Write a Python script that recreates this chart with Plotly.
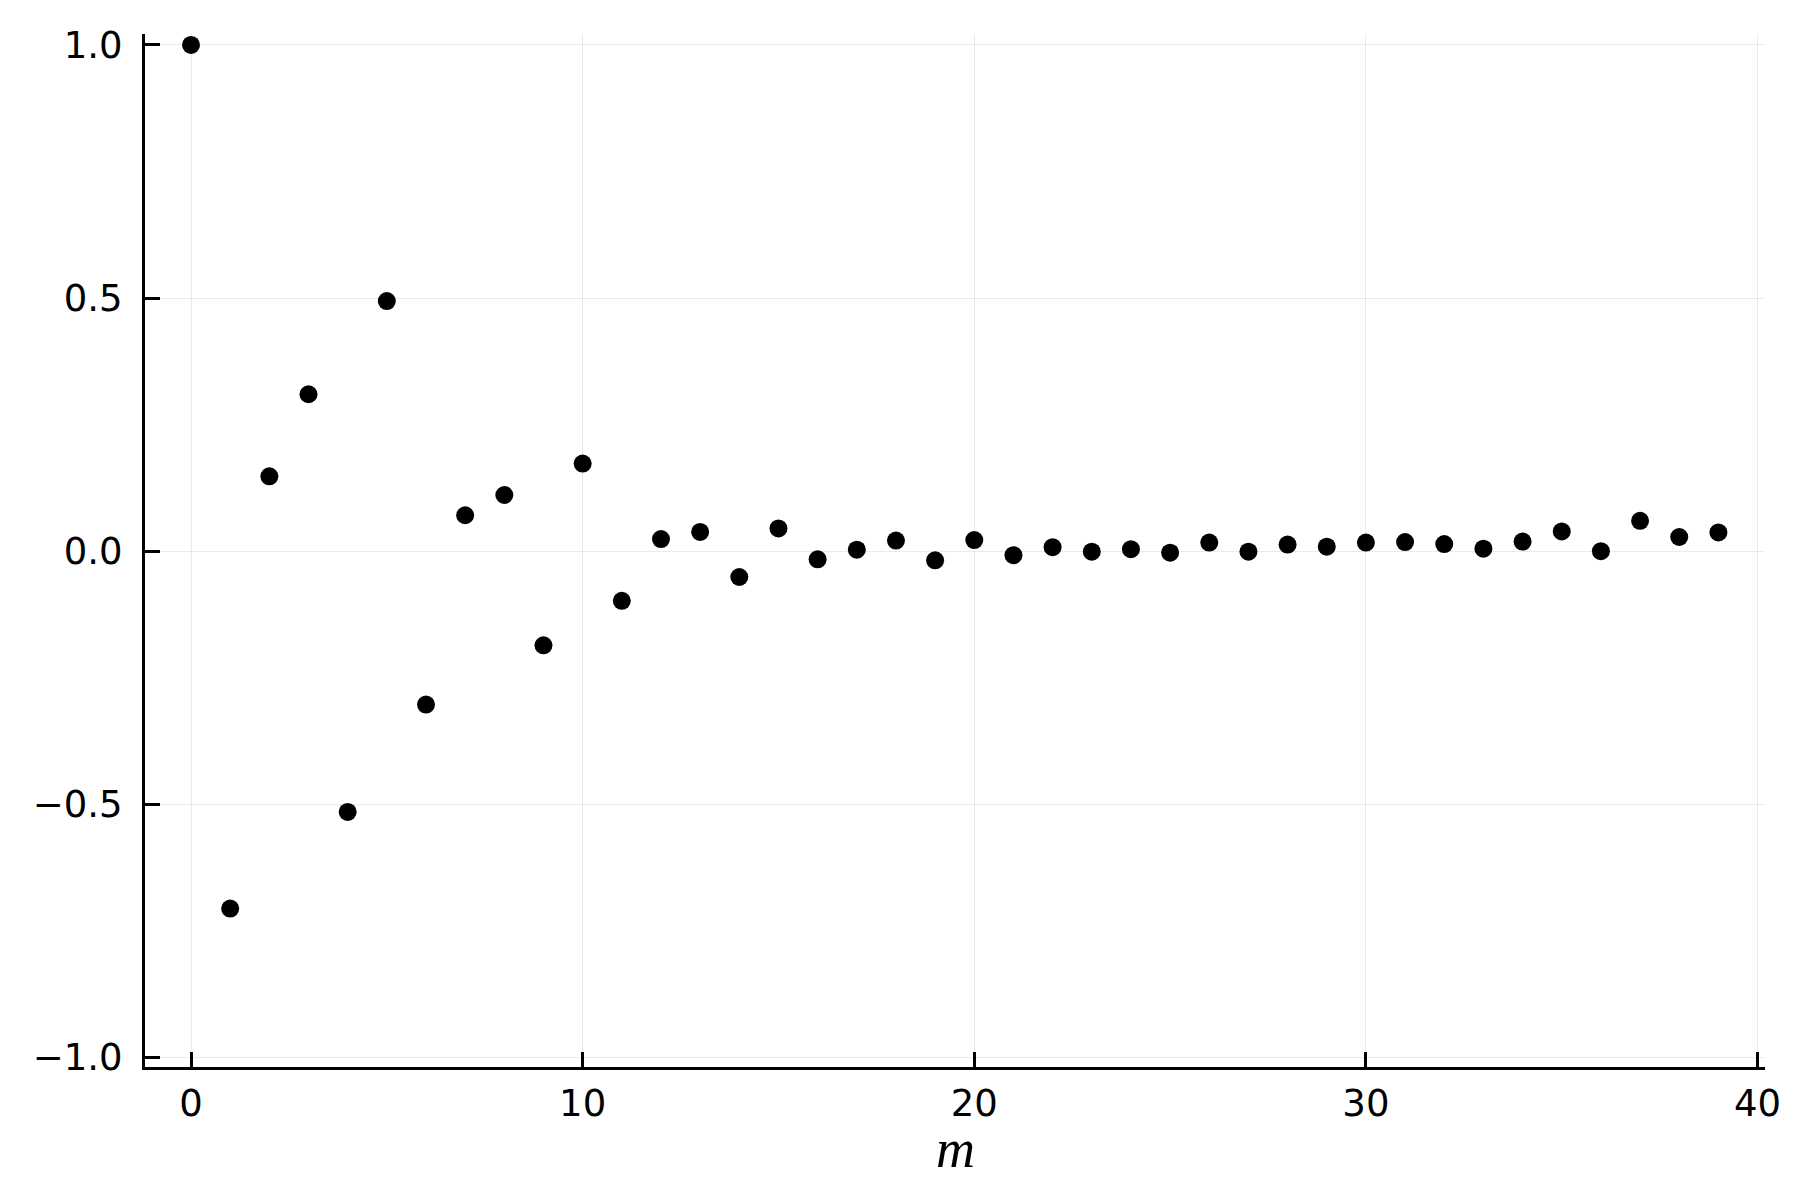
import plotly.graph_objects as go

m_values = list(range(40))
acf_values = [
    1.0, -0.706, 0.148, 0.310, -0.515, 0.494, -0.303, 0.071, 0.111, -0.186,
    0.173, -0.098, 0.024, 0.038, -0.051, 0.045, -0.016, 0.003, 0.021, -0.018,
    0.022, -0.008, 0.008, -0.001, 0.004, -0.003, 0.017, -0.001, 0.013, 0.009,
    0.017, 0.018, 0.014, 0.005, 0.019, 0.039, 0.000, 0.060, 0.028, 0.037,
]
x_ticks = [0, 10, 20, 30, 40]
y_ticks = [-1.0, -0.5, 0.0, 0.5, 1.0]
y_tick_text = ["\u22121.0", "\u22120.5", "0.0", "0.5", "1.0"]

fig = go.Figure()
fig.add_trace(go.Scatter(
    x=m_values, y=acf_values, mode="markers",
    marker=dict(size=18, color="black", line=dict(width=0)),
    showlegend=False,
))

axis_common = dict(
    showline=True, linecolor="black", linewidth=3,
    ticks="inside", ticklen=15, tickwidth=2.5, tickcolor="black",
    showgrid=True, gridcolor="rgba(0,0,0,0.08)", gridwidth=1.3,
    zeroline=False, mirror=False,
    tickfont=dict(family="DejaVu Sans", size=37, color="black"),
)

fig.update_layout(
    width=1800, height=1200,
    paper_bgcolor="white", plot_bgcolor="white",
    margin=dict(l=137, r=43, t=26, b=141),
    xaxis=dict(
        range=[-1.175, 40.19], tickvals=x_ticks, ticktext=[str(v) for v in x_ticks],
        ticklabelstandoff=2,
        **axis_common,
    ),
    yaxis=dict(
        range=[-1.019, 1.0217], tickvals=y_ticks, ticktext=y_tick_text,
        ticklabelstandoff=12,
        **axis_common,
    ),
    annotations=[dict(
        text="<i>m</i>", xref="paper", yref="paper", x=0.5, y=0,
        xanchor="center", yanchor="middle", yshift=-82, showarrow=False,
        font=dict(family="Liberation Serif", size=54, color="black"),
    )],
)

fig.write_html("out.html")
